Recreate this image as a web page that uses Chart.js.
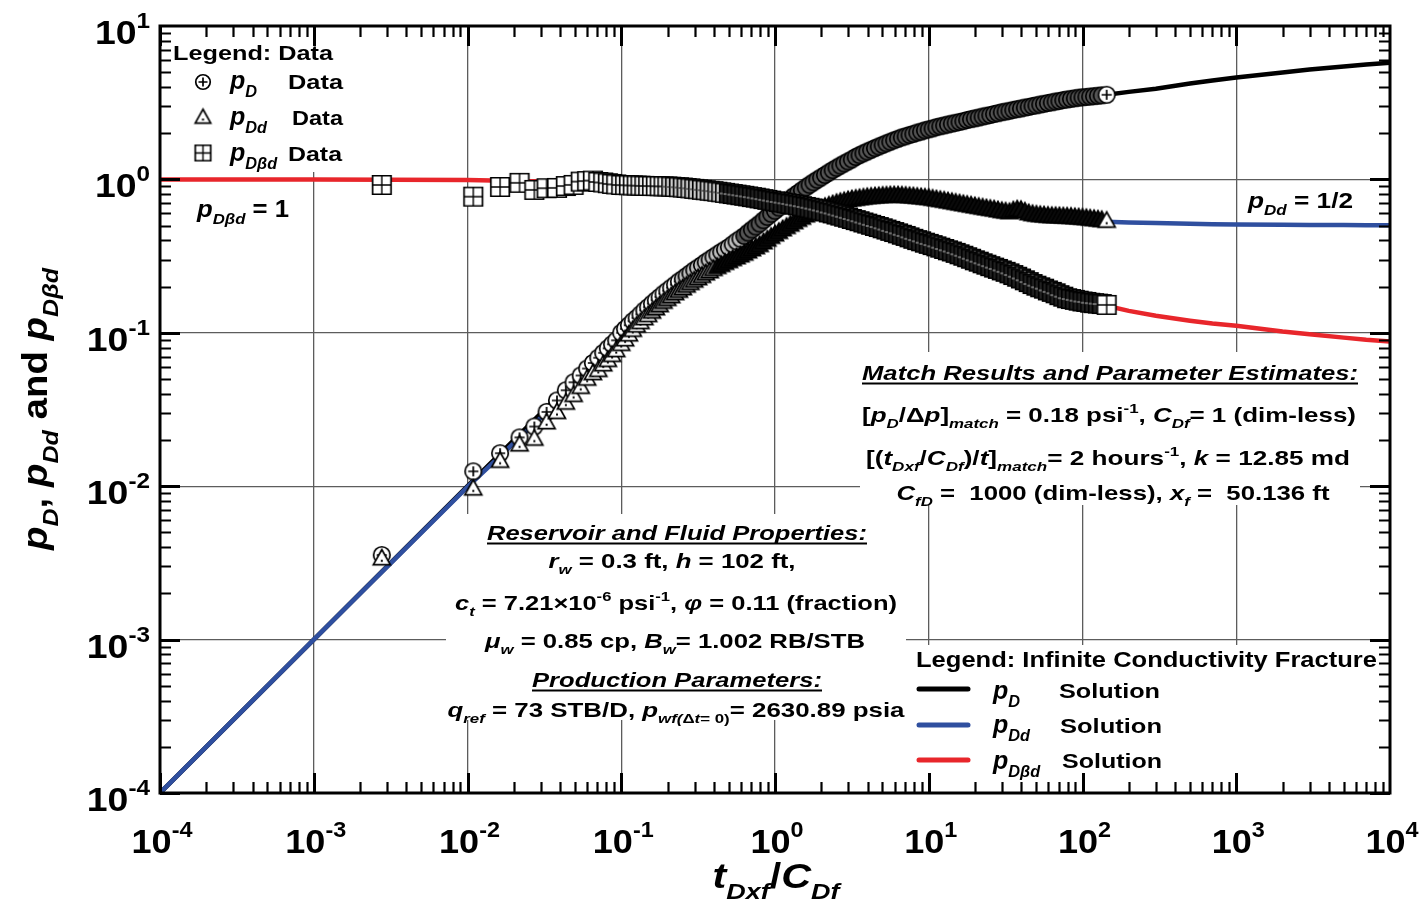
<!DOCTYPE html>
<html><head><meta charset="utf-8">
<script src="https://cdn.jsdelivr.net/npm/chart.js@4.4.1/dist/chart.umd.min.js"></script>
<style>html,body{margin:0;padding:0;background:#fff;}#wrap{width:1420px;height:901px;}</style>
</head><body><div id="wrap"><canvas id="c" width="1420" height="901"></canvas></div>
<script>
// ---------------- DATA ----------------
const tData = [
  0.00277, 0.0109, 0.0163, 0.0218, 0.0272, 0.0327, 0.0382, 0.0436, 0.049,
  0.0545, 0.06, 0.0654, 0.0709, 0.0763, 0.0818, 0.0872, 0.0927,
  0.1, 0.1059, 0.1122, 0.1189,
  0.1259, 0.1334, 0.1413, 0.1496,
  0.1585, 0.1679, 0.1778, 0.1884,
  0.1995, 0.2113, 0.2239, 0.2371,
  0.2512, 0.2661, 0.2818, 0.2985,
  0.3162, 0.335, 0.3548, 0.3758,
  0.3981, 0.4217, 0.4467, 0.4732,
  0.5012, 0.5309, 0.5623, 0.5957,
  0.631, 0.6683, 0.7079, 0.7499,
  0.7943, 0.8414, 0.8913, 0.9441,
  1, 1.059, 1.122, 1.189,
  1.259, 1.334, 1.413, 1.496,
  1.585, 1.679, 1.778, 1.884,
  1.995, 2.113, 2.239, 2.371,
  2.512, 2.661, 2.818, 2.985,
  3.162, 3.35, 3.548, 3.758,
  3.981, 4.217, 4.467, 4.732,
  5.012, 5.309, 5.623, 5.957,
  6.31, 6.683, 7.079, 7.499,
  7.943, 8.414, 8.913, 9.441,
  10, 10.59, 11.22, 11.89,
  12.59, 13.34, 14.13, 14.96,
  15.85, 16.79, 17.78, 18.84,
  19.95, 21.13, 22.39, 23.71,
  25.12, 26.61, 28.18, 29.85,
  31.62, 33.5, 35.48, 37.58,
  39.81, 42.17, 44.67, 47.32,
  50.12, 53.09, 56.23, 59.57,
  63.1, 66.83, 70.79, 74.99,
  79.43, 84.14, 89.13, 94.41,
  100, 105.9, 112.2, 118.9,
  125.9, 133.4, 143.6
];
const pDData = [
  0.00356, 0.0125, 0.0164, 0.0208, 0.0245, 0.0305, 0.0362, 0.0422, 0.0476,
  0.0527, 0.0585, 0.0636, 0.0688, 0.074, 0.0792, 0.0842, 0.0893,
  0.100, 0.106, 0.112, 0.119,
  0.125, 0.132, 0.140, 0.147,
  0.155, 0.163, 0.171, 0.180,
  0.188, 0.197, 0.206, 0.216,
  0.225, 0.235, 0.245, 0.256,
  0.266, 0.277, 0.289, 0.300,
  0.312, 0.324, 0.337, 0.349,
  0.362, 0.378, 0.395, 0.411,
  0.428, 0.450, 0.471, 0.493,
  0.515, 0.542, 0.570, 0.597,
  0.625, 0.655, 0.685, 0.716,
  0.748, 0.782, 0.816, 0.850,
  0.886, 0.922, 0.958, 0.995,
  1.03, 1.07, 1.11, 1.15,
  1.19, 1.23, 1.27, 1.31,
  1.35, 1.40, 1.44, 1.48,
  1.52, 1.56, 1.60, 1.64,
  1.68, 1.72, 1.76, 1.80,
  1.84, 1.88, 1.91, 1.95,
  1.98, 2.02, 2.05, 2.09,
  2.12, 2.15, 2.19, 2.22,
  2.25, 2.28, 2.31, 2.34,
  2.37, 2.40, 2.44, 2.47,
  2.50, 2.53, 2.57, 2.60,
  2.63, 2.67, 2.70, 2.74,
  2.77, 2.80, 2.84, 2.87,
  2.90, 2.94, 2.97, 3.01,
  3.04, 3.08, 3.11, 3.15,
  3.18, 3.22, 3.25, 3.29,
  3.32, 3.35, 3.38, 3.41,
  3.43, 3.45, 3.47, 3.49,
  3.51, 3.53, 3.56
];
const pDdData = [
  0.0034, 0.0097, 0.0147, 0.0188, 0.0205, 0.0262, 0.0306, 0.0352, 0.0395,
  0.0446, 0.0505, 0.0548, 0.0575, 0.0625, 0.0668, 0.072, 0.0774,
  0.085, 0.091, 0.098, 0.105,
  0.112, 0.118, 0.125, 0.131,
  0.138, 0.145, 0.152, 0.160,
  0.167, 0.174, 0.182, 0.189,
  0.196, 0.204, 0.212, 0.220,
  0.228, 0.236, 0.245, 0.253,
  0.262, 0.270, 0.278, 0.287,
  0.295, 0.304, 0.312, 0.321,
  0.330, 0.341, 0.352, 0.363,
  0.375, 0.391, 0.407, 0.424,
  0.440, 0.457, 0.475, 0.492,
  0.510, 0.529, 0.548, 0.566,
  0.585, 0.601, 0.618, 0.634,
  0.650, 0.664, 0.678, 0.691,
  0.705, 0.715, 0.725, 0.735,
  0.745, 0.751, 0.758, 0.764,
  0.770, 0.774, 0.778, 0.781,
  0.785, 0.787, 0.790, 0.791,
  0.790, 0.788, 0.785, 0.781,
  0.778, 0.773, 0.769, 0.764,
  0.760, 0.752, 0.745, 0.737,
  0.730, 0.722, 0.715, 0.707,
  0.700, 0.693, 0.686, 0.679,
  0.672, 0.665, 0.658, 0.651,
  0.645, 0.640, 0.632, 0.625,
  0.620, 0.615, 0.630, 0.640,
  0.635, 0.620, 0.605, 0.597,
  0.592, 0.588, 0.585, 0.582,
  0.580, 0.579, 0.578, 0.576,
  0.575, 0.573, 0.570, 0.568,
  0.565, 0.562, 0.558, 0.554,
  0.550, 0.546, 0.540
];
const pDbdData = [
  0.92, 0.772, 0.893, 0.95, 0.854, 0.876, 0.88, 0.905, 0.921,
  0.968, 0.975, 0.982, 0.962, 0.955, 0.944, 0.935, 0.928,
  0.920, 0.918, 0.916, 0.914,
  0.912, 0.910, 0.908, 0.906,
  0.905, 0.904, 0.903, 0.901,
  0.900, 0.897, 0.893, 0.889,
  0.885, 0.879, 0.874, 0.868,
  0.862, 0.856, 0.850, 0.844,
  0.838, 0.831, 0.824, 0.817,
  0.810, 0.803, 0.796, 0.789,
  0.782, 0.775, 0.767, 0.760,
  0.752, 0.744, 0.736, 0.728,
  0.720, 0.713, 0.706, 0.699,
  0.692, 0.684, 0.677, 0.669,
  0.662, 0.654, 0.645, 0.637,
  0.628, 0.619, 0.609, 0.600,
  0.590, 0.581, 0.571, 0.562,
  0.552, 0.543, 0.534, 0.524,
  0.515, 0.506, 0.497, 0.489,
  0.480, 0.471, 0.462, 0.454,
  0.445, 0.436, 0.428, 0.419,
  0.410, 0.402, 0.395, 0.387,
  0.380, 0.373, 0.366, 0.359,
  0.352, 0.345, 0.339, 0.332,
  0.325, 0.318, 0.311, 0.304,
  0.297, 0.291, 0.284, 0.278,
  0.272, 0.266, 0.261, 0.255,
  0.250, 0.244, 0.238, 0.232,
  0.226, 0.220, 0.214, 0.208,
  0.203, 0.198, 0.194, 0.189,
  0.185, 0.181, 0.176, 0.172,
  0.168, 0.166, 0.164, 0.162,
  0.160, 0.159, 0.157, 0.156,
  0.155, 0.154, 0.152
];
const tSol   = [1e-4, 1e-3, 0.01, 0.03, 0.1, 0.2, 0.5, 1, 2, 5, 10, 20, 50, 100, 143.6, 200, 300, 500, 700, 1000, 2000, 3000, 5000, 7000, 10000];
const pDSol  = [1e-4, 1e-3, 0.01, 0.0298, 0.1, 0.188, 0.365, 0.625, 1.03, 1.68, 2.12, 2.50, 3.04, 3.43, 3.56, 3.72, 3.9, 4.22, 4.41, 4.61, 4.97, 5.2, 5.45, 5.62, 5.77];
const pDdSol = [1e-4, 1e-3, 0.0099, 0.028, 0.085, 0.167, 0.295, 0.44, 0.65, 0.785, 0.76, 0.67, 0.592, 0.565, 0.53, 0.524, 0.519, 0.514, 0.511, 0.509, 0.506, 0.505, 0.504, 0.503, 0.503];
const pDbdSol= [1, 1, 0.99, 0.97, 0.92, 0.9, 0.81, 0.72, 0.628, 0.48, 0.38, 0.297, 0.203, 0.16, 0.15, 0.139, 0.129, 0.12, 0.115, 0.111, 0.102, 0.098, 0.093, 0.09, 0.0877];
const xDecades = [1e-4, 1e-3, 1e-2, 1e-1, 1, 10, 100, 1000, 10000];
const xExps    = ['-4', '-3', '-2', '-1', '0', '1', '2', '3', '4'];
const yDecades = [1e-4, 1e-3, 1e-2, 1e-1, 1, 10];
const yExps    = ['-4', '-3', '-2', '-1', '0', '1'];

// ---------------- STYLE / HELPERS ----------------
const FONT = '"Liberation Sans", Arial, Helvetica, sans-serif';
const BLUE = '#2f4f9f', RED = '#e8262b';

function pts(xs, ys){ return xs.map((x,i)=>({x:x, y:ys[i]})); }

function makeMarker(kind, d, fill, inner){
  const s = Math.ceil(d) + 5; const c = document.createElement('canvas'); c.width = s; c.height = s;
  const g = c.getContext('2d'); const m = s/2; const h = d/2;
  g.fillStyle = fill; g.strokeStyle = '#000'; g.lineWidth = 1.7;
  g.beginPath();
  if (kind === 'circle') { g.arc(m, m, h, 0, Math.PI*2); }
  else if (kind === 'tri') { g.moveTo(m, m - h); g.lineTo(m + h, m + h*0.78); g.lineTo(m - h, m + h*0.78); g.closePath(); }
  else { g.rect(m - h, m - h, d, d); }
  g.fill(); g.stroke();
  g.strokeStyle = inner; g.fillStyle = inner;
  g.beginPath();
  if (kind === 'circle') { const a = h*0.62; g.moveTo(m-a, m); g.lineTo(m+a, m); g.moveTo(m, m-a); g.lineTo(m, m+a); g.stroke(); }
  else if (kind === 'tri') { g.fillRect(m-1, m+h*0.2, 2, 2); }
  else { g.lineWidth = 1.4; g.moveTo(m-h, m); g.lineTo(m+h, m); g.moveTo(m, m-h); g.lineTo(m, m+h); g.stroke(); }
  return c;
}
const imgCircle = makeMarker('circle', 16.5, '#fff', '#000'), imgTri = makeMarker('tri', 17, '#fff', '#000'), imgSq = makeMarker('sq', 18.5, '#fff', '#000');
const darkCircle = makeMarker('circle', 16.5, '#555', '#555'), darkTri = makeMarker('tri', 17, '#0c0c0c', '#0c0c0c'), darkSq = makeMarker('sq', 18.5, '#222', '#8a8a8a');
const midCircle = makeMarker('circle', 16.5, '#bdbdbd', '#bdbdbd'), midTri = makeMarker('tri', 17, '#9a9a9a', '#9a9a9a'), midSq = makeMarker('sq', 18.5, '#cfcfcf', '#555');
const legCircle = makeMarker('circle', 14.5, '#fff', '#000'), legTri = makeMarker('tri', 15.5, '#fff', '#000'), legSq = makeMarker('sq', 15.5, '#fff', '#000');

// marker shading: sparse early points are white, the very dense later band appears dark
function styler(white, mid, dark, midFrom, darkFrom){
  return (c) => { const r = c.raw; if (!r) return white; if (r.x >= 140 || r.x < midFrom) return white; return r.x < darkFrom ? mid : dark; };
}

function parseRich(s, it0){
  const runs = []; let italic = !!it0, mode = 'n', buf = '';
  const push = () => { if (buf) { runs.push({t:buf, it:italic, m:mode}); buf = ''; } };
  for (let i = 0; i < s.length; i++) {
    const ch = s[i];
    if (ch === '*') { push(); italic = !italic; continue; }
    if ((ch === '_' || ch === '^') && s[i+1] === '{') { push(); mode = ch === '_' ? 'sub' : 'sup'; i++; continue; }
    if (ch === '}' && mode !== 'n') { push(); mode = 'n'; continue; }
    buf += ch;
  }
  push(); return runs;
}
function fontFor(r, size){ const s = r.m === 'n' ? size : size*0.65; return (r.it ? 'italic ' : '') + 'bold ' + s.toFixed(1) + 'px ' + FONT; }
function drawRich(ctx, str, o){
  const size = o.size; const runs = parseRich(str, o.italic);
  let nat = 0;
  for (const r of runs) { ctx.font = fontFor(r, size); r.w = ctx.measureText(r.t).width; nat += r.w; }
  const sx = o.w ? o.w/nat : (o.sx || 1); const tot = nat*sx;
  let left = o.x; if (o.align === 'center') left = o.x - tot/2; else if (o.align === 'right') left = o.x - tot;
  ctx.save(); ctx.translate(left, o.y); ctx.scale(sx, 1);
  ctx.fillStyle = '#000'; ctx.textBaseline = 'alphabetic'; ctx.textAlign = 'left';
  let cx = 0;
  for (const r of runs) {
    ctx.font = fontFor(r, size);
    const dy = r.m === 'sub' ? size*0.3 : (r.m === 'sup' ? -size*(o.supUp || 0.42) : 0);
    ctx.fillText(r.t, cx, dy); cx += r.w;
  }
  if (o.underline) ctx.fillRect(0, 2.5, nat, 2);
  ctx.restore();
}

// annotation layout
const whiteBoxes = [[162, 28, 188, 144], [860, 352, 500, 153], [446, 514, 460, 206], [907, 645, 481, 147]];
const annotations = [
  {s:'Legend: Data', x:173, y:60, size:20, w:160},
  {s:'*p*_{*D*}', x:230, y:89, size:25},
  {s:'Data', x:288, y:89, size:21, w:55},
  {s:'*p*_{*Dd*}', x:230, y:125, size:25},
  {s:'Data', x:292, y:125, size:21, w:51},
  {s:'*p*_{*Dβd*}', x:230, y:161, size:25},
  {s:'Data', x:288, y:161, size:21, w:54},
  {s:'*p*_{*Dβd*} = 1', x:197, y:217, size:23, w:92},
  {s:'*p*_{*Dd*} = 1/2', x:1248, y:208, size:22, w:105},
  {s:'Match Results and Parameter Estimates:', x:1110, y:380, size:21, w:496, align:'center', italic:true, underline:true},
  {s:'[*p*_{*D*}/Δ*p*]_{*match*} = 0.18 psi^{-1}, *C*_{*Df*}= 1 (dim-less)', x:1109, y:422, size:21, w:494, align:'center'},
  {s:'[(*t*_{*Dxf*}/*C*_{*Df*})/*t*]_{*match*}= 2 hours^{-1}, *k* = 12.85 md', x:1108, y:465, size:21, w:484, align:'center'},
  {s:'*C*_{*fD*} =  1000 (dim-less), *x*_{*f*} =  50.136 ft', x:1113, y:500, size:21, w:433, align:'center'},
  {s:'Reservoir and Fluid Properties:', x:677, y:540, size:21, w:380, align:'center', italic:true, underline:true},
  {s:'*r*_{*w*} = 0.3 ft, *h* = 102 ft,', x:672, y:568, size:21, w:247, align:'center'},
  {s:'*c*_{*t*} = 7.21×10^{-6} psi^{-1}, *φ* = 0.11 (fraction)', x:676, y:610, size:21, w:442, align:'center'},
  {s:'*μ*_{*w*} = 0.85 cp, *B*_{*w*}= 1.002 RB/STB', x:675, y:648, size:21, w:380, align:'center'},
  {s:'Production Parameters:', x:677, y:687, size:21, w:290, align:'center', italic:true, underline:true},
  {s:'*q*_{*ref*} = 73 STB/D, *p*_{*wf(*Δ*t*= 0)}= 2630.89 psia', x:676, y:717, size:21, w:457, align:'center'},
  {s:'Legend: Infinite Conductivity Fracture', x:916, y:667, size:22, w:461},
  {s:'*p*_{*D*}', x:993, y:699, size:25},
  {s:'Solution', x:1059, y:698, size:21, w:101},
  {s:'*p*_{*Dd*}', x:993, y:733, size:25},
  {s:'Solution', x:1060, y:733, size:21, w:102},
  {s:'*p*_{*Dβd*}', x:993, y:769, size:25},
  {s:'Solution', x:1062, y:768, size:21, w:100},
  {s:'*t*_{*Dxf*}/*C*_{*Df*}', x:776, y:888, size:35, w:127, align:'center'}
];

const deco = {
  id: 'deco',
  beforeDatasetsDraw(chart){
    const ctx = chart.ctx; ctx.save(); ctx.fillStyle = '#fff';
    for (const b of whiteBoxes) ctx.fillRect(b[0], b[1], b[2], b[3]);
    ctx.restore();
  },
  afterDraw(chart){
    const ctx = chart.ctx, a = chart.chartArea, xs = chart.scales.x, ys = chart.scales.y;
    ctx.save();
    ctx.strokeStyle = '#000'; ctx.lineCap = 'butt';
    for (let n = -4; n <= 3; n++) for (let m = 1; m <= 9; m++) {
      const v = m*Math.pow(10, n); const px = Math.round(xs.getPixelForValue(v)) + 0.5;
      const L = m === 1 ? 20 : 11; ctx.lineWidth = m === 1 ? 3 : 2.2;
      ctx.beginPath(); ctx.moveTo(px, a.bottom); ctx.lineTo(px, a.bottom - L);
      ctx.moveTo(px, a.top); ctx.lineTo(px, a.top + L); ctx.stroke();
    }
    for (let n = -4; n <= 0; n++) for (let m = 1; m <= 9; m++) {
      const v = m*Math.pow(10, n); const py = Math.round(ys.getPixelForValue(v)) + 0.5;
      const L = m === 1 ? 20 : 11; ctx.lineWidth = m === 1 ? 3 : 2.2;
      ctx.beginPath(); ctx.moveTo(a.left, py); ctx.lineTo(a.left + L, py);
      ctx.moveTo(a.right, py); ctx.lineTo(a.right - L, py); ctx.stroke();
    }
    ctx.lineWidth = 3; ctx.strokeRect(a.left, a.top, a.right - a.left, a.bottom - a.top);
    xDecades.forEach((v, i) => drawRich(ctx, '10^{' + xExps[i] + '}', {x: xs.getPixelForValue(v) + 2, y: 853, size: 34, align: 'center', sx: 1.06, supUp: 0.47}));
    yDecades.forEach((v, i) => drawRich(ctx, '10^{' + yExps[i] + '}', {x: 150, y: ys.getPixelForValue(v) + 18, size: 34, align: 'right', sx: 1.1, supUp: 0.47}));
    ctx.save(); ctx.translate(47, 409); ctx.rotate(-Math.PI/2);
    drawRich(ctx, '*p*_{*D*}, *p*_{*Dd*} and *p*_{*Dβd*}', {x: 0, y: 0, size: 35, w: 282, align: 'center'});
    ctx.restore();
    for (const t of annotations) drawRich(ctx, t.s, t);
    ctx.drawImage(legCircle, 203 - legCircle.width/2, 82 - legCircle.height/2);
    ctx.drawImage(legTri, 203 - legTri.width/2, 117 - legTri.height/2);
    ctx.drawImage(legSq, 203 - legSq.width/2, 153 - legSq.height/2);
    ctx.lineCap = 'round'; ctx.lineWidth = 5;
    [['#000', 689], [BLUE, 725], [RED, 760]].forEach(([c, y]) => {
      ctx.strokeStyle = c; ctx.beginPath(); ctx.moveTo(919, y); ctx.lineTo(968, y); ctx.stroke();
    });
    ctx.restore();
  }
};

const decadeTicks = (list) => (s) => { s.ticks = list.map(v => ({value: v, major: true})); };

new Chart(document.getElementById('c').getContext('2d'), {
  type: 'scatter',
  data: { datasets: [
    {label:'pD solution', data: pts(tSol, pDSol), showLine: true, borderColor: '#000', borderWidth: 4.5, pointRadius: 0, borderCapStyle: 'round', order: 7},
    {label:'pDd solution', data: pts(tSol, pDdSol), showLine: true, borderColor: BLUE, borderWidth: 4.5, pointRadius: 0, borderCapStyle: 'round', order: 6},
    {label:'pDbd solution', data: pts(tSol, pDbdSol), showLine: true, borderColor: RED, borderWidth: 4.5, pointRadius: 0, borderCapStyle: 'round', order: 6},
    {label:'pD data', data: pts(tData, pDData), showLine: false, pointStyle: styler(imgCircle, midCircle, darkCircle, 0.25, 0.6), pointRadius: 8, order: 3},
    {label:'pDd data', data: pts(tData, pDdData), showLine: false, pointStyle: styler(imgTri, midTri, darkTri, 0.15, 0.4), pointRadius: 8, order: 2},
    {label:'pDbd data', data: pts(tData, pDbdData), showLine: false, pointStyle: styler(imgSq, midSq, darkSq, 0.2, 0.5), pointRadius: 8, order: 1}
  ]},
  options: {
    responsive: false, animation: false, devicePixelRatio: 1,
    layout: { padding: { left: 160, right: 30, top: 26, bottom: 108 } },
    plugins: { legend: { display: false }, tooltip: { enabled: false } },
    scales: {
      x: { type: 'logarithmic', min: 1e-4, max: 1e4, afterBuildTicks: decadeTicks(xDecades),
           afterFit: (s) => { s.height = 0; },
           ticks: { display: false }, grid: { color: '#5c5c5c', lineWidth: 1.3, drawTicks: false }, border: { display: false } },
      y: { type: 'logarithmic', min: 1e-4, max: 10, afterBuildTicks: decadeTicks(yDecades),
           afterFit: (s) => { s.width = 0; },
           ticks: { display: false }, grid: { color: '#5c5c5c', lineWidth: 1.3, drawTicks: false }, border: { display: false } }
    }
  },
  plugins: [deco]
});
</script></body></html>
